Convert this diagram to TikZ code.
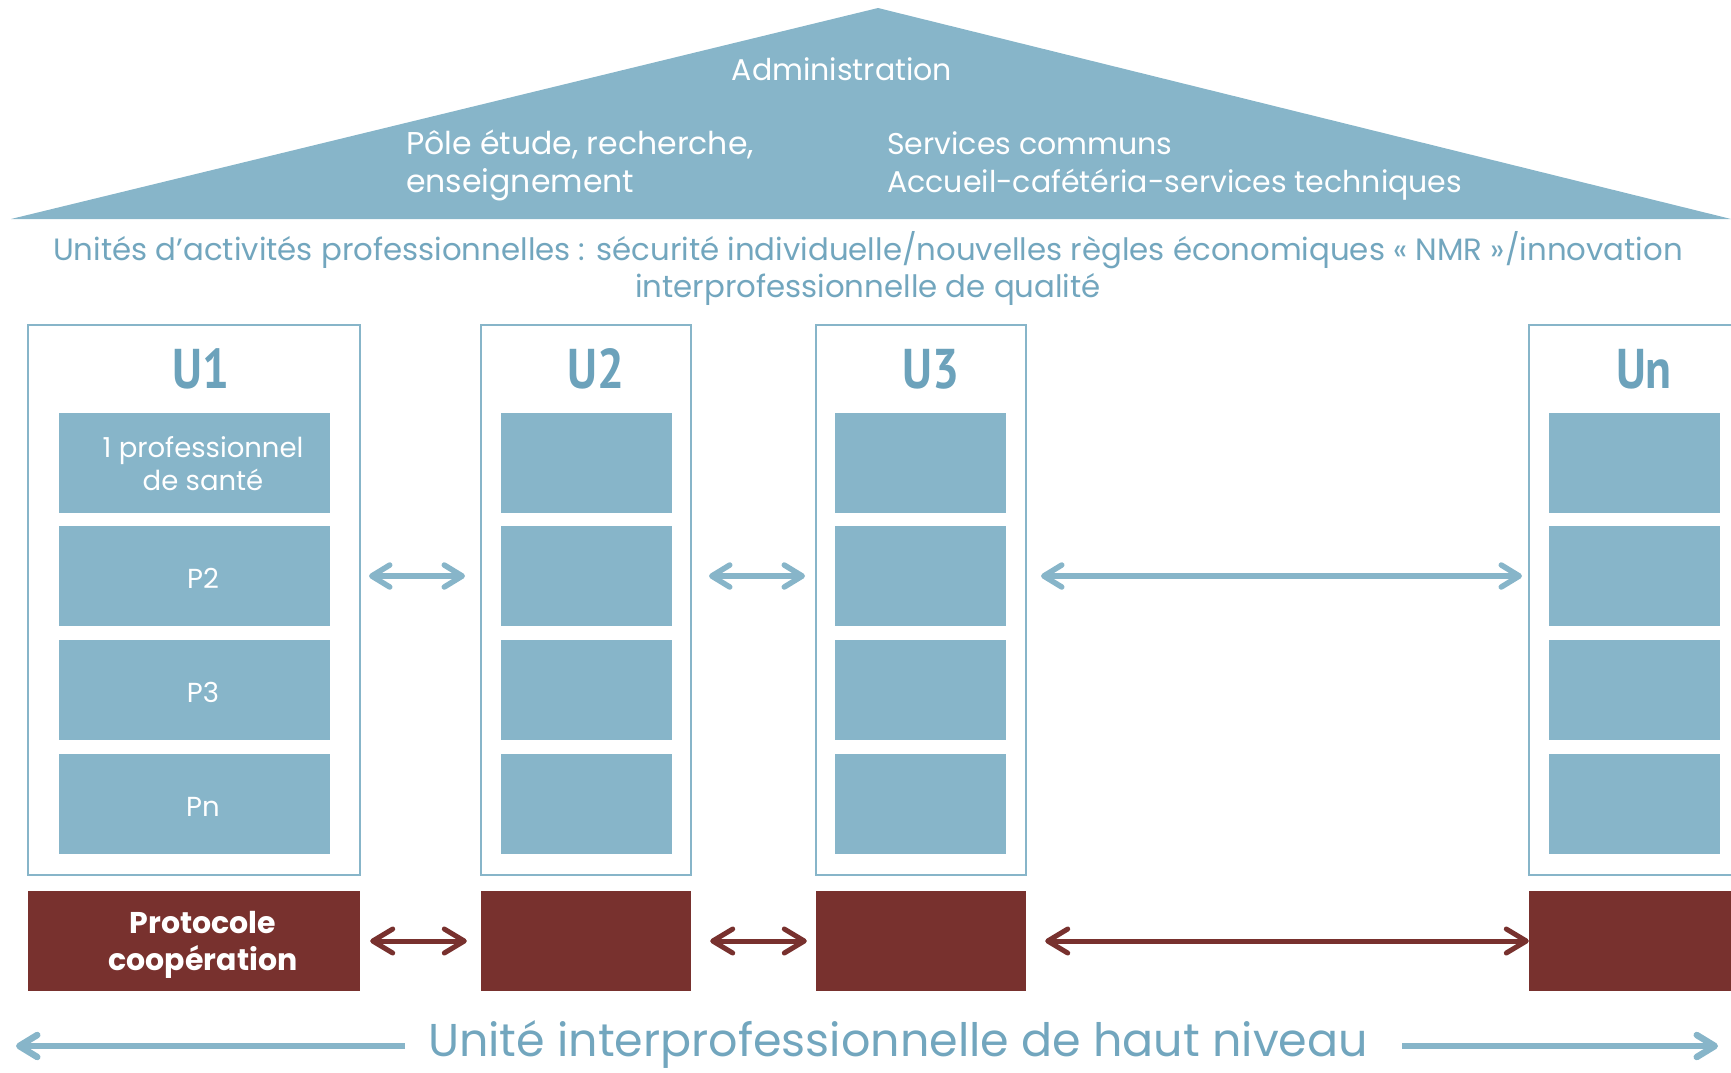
\documentclass[tikz,border=0pt]{standalone}
\usepackage{fontspec}
\usepackage{graphicx}
\setmainfont{Poppins}
\newfontfamily\ufont{PT Sans}
\usetikzlibrary{arrows.meta,calc}
\definecolor{bfill}{RGB}{135,181,201}
\definecolor{btext}{RGB}{114,166,190}
\definecolor{blabel}{RGB}{108,162,187}
\definecolor{rfill}{RGB}{120,49,46}
\begin{document}
\begin{tikzpicture}[x=1pt,y=-1pt,
  ubox/.style={draw=bfill, line width=2pt, minimum height=550pt, inner sep=0pt},
  cell/.style={fill=bfill, minimum height=100pt, inner sep=0pt},
  pbox/.style={fill=rfill, minimum height=100pt, inner sep=0pt},
  ulabel/.style={text=blabel, font=\ufont\bfseries\fontsize{56}{60}\selectfont, anchor=base, inner sep=0pt},
  celltext/.style={text=white, font=\fontsize{27.5}{33}\selectfont, align=center, anchor=base, inner sep=0pt},
  rooftext/.style={text=white, font=\fontsize{30}{38}\selectfont, inner sep=0pt},
  subtext/.style={text=btext, font=\fontsize{30.8}{37}\selectfont, align=center, anchor=base, inner sep=0pt},
  ptext/.style={text=white, font=\bfseries\fontsize{30}{37}\selectfont, align=center, anchor=base, inner sep=0pt},
  bottomtext/.style={text=btext, font=\fontsize{46}{50}\selectfont, anchor=base, inner sep=0pt},
  barrow/.style={draw=bfill, line width=5.5pt, line cap=round,
    {Straight Barb[length=18pt,width=22pt,round]}-{Straight Barb[length=18pt,width=22pt,round]}},
  rarrow/.style={draw=rfill, line width=5pt, line cap=round,
    {Straight Barb[length=20pt,width=24pt,round]}-{Straight Barb[length=20pt,width=24pt,round]}},
  bigarrow/.style={draw=bfill, line width=6.5pt, -{Straight Barb[length=18pt,width=22pt,round]}},
]
\useasboundingbox (0,0) rectangle (1731,1072);
\clip (0,0) rectangle (1731,1072);
% roof
\fill[bfill] (11,219) -- (878,8) -- (1731,219) -- cycle;
\node[rooftext, anchor=base] (adm) at (842,80) {Administration};
\node[rooftext, font=\fontsize{31.5}{38}\selectfont, anchor=base west, align=left] (pole) at (406,192) {Pôle étude, recherche,\\enseignement};
\node[rooftext, anchor=base west, align=left] (serv) at (887,192) {Services communs\\Accueil-cafétéria-services techniques};
\node[subtext] (sub) at (868,297) {Unités d’activités professionnelles : sécurité individuelle/nouvelles règles économiques « NMR »/innovation\\interprofessionnelle de qualité};
% unit boxes
\node[ubox, minimum width=332.5pt] (u1) at (193.75,600) {};
\node[ubox, minimum width=210pt] (u2) at (586,600) {};
\node[ubox, minimum width=210pt] (u3) at (921,600) {};
\node[ubox, minimum width=210pt] (un) at (1634,600) {};
\node[ulabel] (l1) at (201,388) {\scalebox{0.85}[1]{U1}};
\node[ulabel] (l2) at (596,388) {\scalebox{0.85}[1]{U2}};
\node[ulabel] (l3) at (931,388) {\scalebox{0.85}[1]{U3}};
\node[ulabel] (ln) at (1644,388) {\scalebox{0.85}[1]{Un}};
\foreach \yy [count=\i] in {462.5,576,690,804}{
  \node[cell, minimum width=271pt] (c1\i) at (194.5,\yy) {};
  \node[cell, minimum width=171pt] (c2\i) at (586.5,\yy) {};
  \node[cell, minimum width=171pt] (c3\i) at (920.5,\yy) {};
  \node[cell, minimum width=171pt] (cn\i) at (1634.5,\yy) {};
}
\node[celltext] (t1) at (203,490) {1 professionnel\\de santé};
\node[celltext] (t2) at (203,588) {P2};
\node[celltext] (t3) at (203,702) {P3};
\node[celltext] (t4) at (203,816) {Pn};
% protocol boxes
\node[pbox, minimum width=332.5pt] (p1) at (193.75,941) {};
\node[pbox, minimum width=210pt] (p2) at (586,941) {};
\node[pbox, minimum width=210pt] (p3) at (921,941) {};
\node[pbox, minimum width=210pt] (pn) at (1634,941) {};
\node[ptext] (ptx) at (203,970) {Protocole\\coopération};
% blue arrows
\draw[barrow] ([xshift=8pt,yshift=24pt]u1.east) -- ([xshift=-15pt,yshift=24pt]u2.west);
\draw[barrow] ([xshift=17pt,yshift=24pt]u2.east) -- ([xshift=-10pt,yshift=24pt]u3.west);
\draw[barrow] ([xshift=14pt,yshift=24pt]u3.east) -- ([xshift=-6pt,yshift=24pt]un.west);
% red arrows
\draw[rarrow] ([xshift=10pt]p1.east) -- ([xshift=-14pt]p2.west);
\draw[rarrow] ([xshift=19pt]p2.east) -- ([xshift=-9pt]p3.west);
\draw[rarrow] ([xshift=19pt]p3.east) -- (pn.west);
% bottom
\node[bottomtext] (bt) at (898,1056) {Unité interprofessionnelle de haut niveau};
\coordinate (lstart) at (405,1046);
\coordinate (lend) at (16,1046);
\coordinate (rstart) at (1402,1046);
\coordinate (rend) at (1718,1046);
\draw[bigarrow] (lstart) -- (lend);
\draw[bigarrow] (rstart) -- (rend);
\end{tikzpicture}
\end{document}
